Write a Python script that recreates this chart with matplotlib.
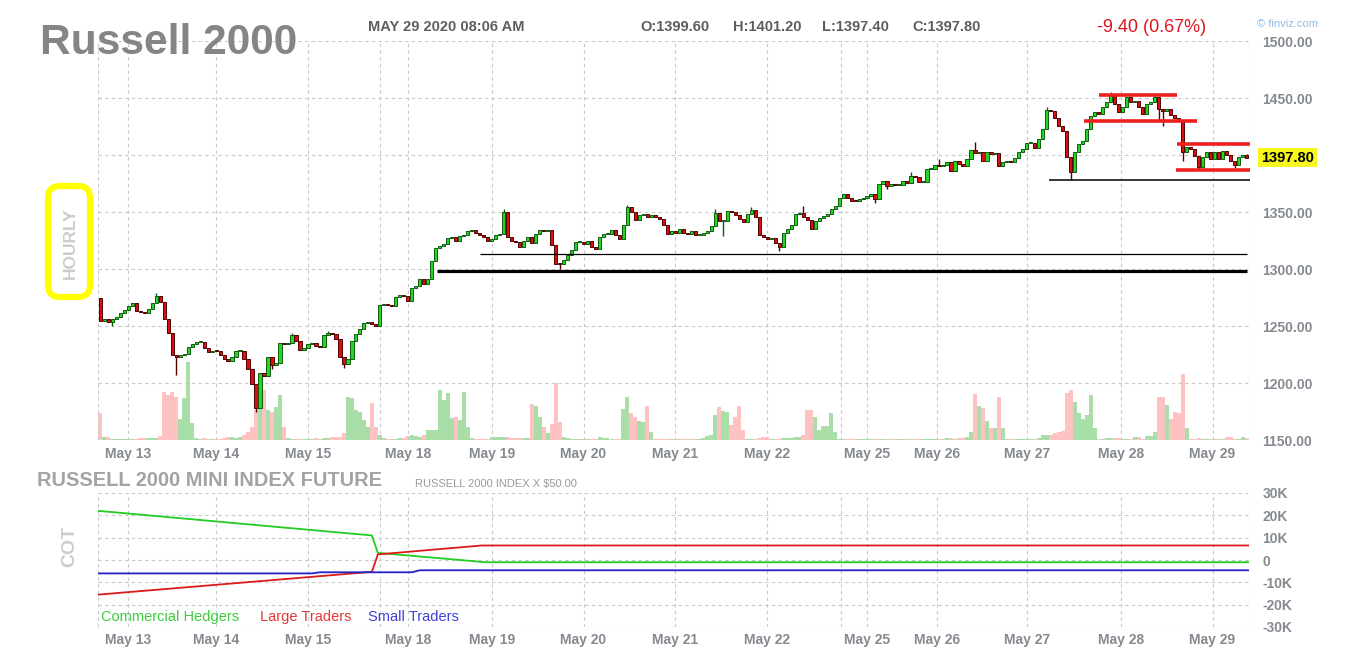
import numpy as np
import matplotlib.pyplot as plt
from matplotlib.patches import FancyBboxPatch
from matplotlib.transforms import blended_transform_factory

plt.rcParams['font.family'] = ['Liberation Sans', 'DejaVu Sans']

# Russell 2000 futures, hourly candles (May 12 evening -> May 29 08:00)
# open of each candle = close of the one before
first_open = 1275.0
closes = [
    1254.4, 1255.8, 1253.5, 1256.4, 1258.2, 1261.7, 1264.0, 1267.5, 1269.9, 1263.2, 1262.3, 1261.7,
    1265.2, 1269.9, 1276.3, 1271.0, 1255.8, 1244.2, 1224.3, 1223.1, 1224.3, 1225.1, 1231.9, 1233.9,
    1236.0, 1236.0, 1231.0, 1227.2, 1228.4, 1227.8, 1224.3, 1221.3, 1219.3, 1223.1, 1227.8, 1228.4,
    1221.3, 1212.0, 1198.8, 1178.4, 1208.5, 1206.1, 1223.1, 1215.5, 1217.8, 1234.8, 1233.9, 1234.8,
    1241.8, 1236.8, 1228.9, 1231.0, 1233.9, 1235.4, 1232.5, 1231.3, 1241.8, 1243.6, 1242.7, 1238.3,
    1223.1, 1216.4, 1221.3, 1236.8, 1242.7, 1247.1, 1252.3, 1253.5, 1251.5, 1250.0, 1268.1, 1269.0,
    1268.1, 1267.5, 1275.7, 1276.9, 1276.3, 1272.0, 1283.0, 1285.0, 1291.0, 1287.0, 1291.0, 1307.0,
    1318.0, 1320.0, 1322.0, 1327.0, 1328.0, 1325.0, 1329.0, 1330.0, 1333.0, 1334.0, 1332.0, 1330.0,
    1328.0, 1325.0, 1326.0, 1330.0, 1331.0, 1350.0, 1328.0, 1325.0, 1323.7, 1319.3, 1325.0, 1328.0,
    1323.0, 1331.0, 1334.0, 1333.0, 1334.0, 1320.8, 1304.7, 1304.0, 1307.6, 1312.0, 1316.4, 1323.7,
    1323.7, 1322.2, 1325.0, 1319.3, 1317.8, 1328.0, 1331.0, 1331.0, 1334.0, 1329.5, 1326.6, 1338.3,
    1354.4, 1350.0, 1342.7, 1347.0, 1348.0, 1345.6, 1347.0, 1345.6, 1344.0, 1339.0, 1330.4, 1333.3,
    1331.3, 1335.4, 1331.3, 1330.4, 1333.3, 1329.5, 1329.5, 1331.9, 1333.3, 1337.7, 1349.0, 1342.0,
    1342.0, 1351.0, 1350.0, 1347.0, 1344.0, 1341.0, 1348.0, 1352.0, 1346.0, 1330.0, 1328.0, 1326.0,
    1327.5, 1323.0, 1319.0, 1332.0, 1335.0, 1339.0, 1348.0, 1349.4, 1345.9, 1343.0, 1334.8, 1342.0,
    1345.0, 1346.5, 1348.0, 1353.0, 1355.5, 1362.6, 1365.5, 1362.0, 1360.0, 1359.5, 1361.0, 1362.0,
    1364.0, 1366.0, 1361.0, 1374.6, 1377.5, 1373.1, 1374.6, 1373.7, 1373.7, 1377.5, 1375.4, 1381.3,
    1380.4, 1376.0, 1376.0, 1387.7, 1388.0, 1391.2, 1390.1, 1391.2, 1393.6, 1386.3, 1395.0, 1392.1,
    1390.6, 1396.5, 1404.4, 1401.8, 1402.9, 1395.0, 1402.9, 1400.9, 1402.0, 1390.6, 1393.6, 1394.2,
    1393.6, 1397.1, 1402.9, 1405.3, 1410.5, 1410.5, 1405.8, 1414.0, 1422.8, 1439.8, 1438.9, 1432.2,
    1425.7, 1421.3, 1398.0, 1384.8, 1402.3, 1409.6, 1412.6, 1422.8, 1434.5, 1437.4, 1436.0, 1441.8,
    1446.2, 1453.0, 1444.7, 1437.4, 1441.8, 1450.6, 1446.2, 1447.0, 1441.8, 1436.0, 1444.7, 1446.2,
    1450.6, 1440.4, 1438.9, 1440.4, 1435.1, 1432.2, 1430.1, 1402.3, 1406.7, 1405.3, 1399.4, 1389.2,
    1398.0, 1402.3, 1396.5, 1402.3, 1396.5, 1403.8, 1400.0, 1395.0, 1391.2, 1398.0, 1399.6, 1397.8,
]
volume = [
    27, 3, 3, 1, 1, 1, 1, 1, 1, 1, 2, 2,
    2, 2, 2, 4, 48, 45, 48, 43, 21, 42, 78, 17,
    2, 1, 2, 1, 1, 1, 1, 2, 3, 3, 2, 3,
    5, 8, 13, 30, 48, 50, 30, 28, 33, 45, 13, 2,
    1, 1, 1, 1, 1, 1, 2, 1, 2, 2, 3, 3,
    3, 7, 43, 42, 30, 28, 20, 13, 37, 13, 5, 2,
    1, 1, 1, 2, 2, 4, 5, 4, 3, 5, 10, 10,
    10, 50, 40, 47, 22, 23, 20, 48, 13, 2, 1, 1,
    1, 1, 3, 3, 3, 3, 3, 2, 2, 2, 2, 2,
    36, 34, 23, 13, 7, 16, 57, 18, 3, 2, 1, 1,
    1, 1, 1, 1, 1, 3, 2, 2, 1, 1, 1, 31,
    43, 27, 23, 19, 18, 34, 8, 1, 1, 1, 1, 1,
    1, 1, 1, 1, 1, 1, 1, 2, 4, 5, 25, 33,
    29, 28, 15, 23, 34, 10, 1, 1, 1, 2, 3, 3,
    1, 1, 1, 2, 2, 2, 3, 3, 5, 30, 30, 23,
    10, 14, 14, 27, 8, 1, 1, 1, 1, 1, 1, 1,
    1, 1, 1, 1, 1, 1, 1, 1, 1, 1, 1, 1,
    1, 1, 1, 1, 1, 1, 1, 1, 2, 2, 1, 2,
    2, 3, 8, 46, 34, 32, 19, 12, 12, 43, 12, 1,
    1, 1, 1, 1, 1, 1, 1, 2, 5, 5, 5, 7,
    8, 9, 47, 50, 38, 27, 21, 25, 45, 12, 1, 1,
    2, 2, 2, 2, 1, 1, 1, 3, 3, 1, 4, 4,
    8, 43, 43, 35, 21, 28, 27, 66, 12, 1, 1, 2,
    1, 1, 1, 1, 1, 1, 3, 3, 1, 1, 3, 2,
]
# candles with a visible wick beyond the body
wick_high = {14: 1279.0, 48: 1244.0, 57: 1246.0, 101: 1352.5, 132: 1356.5, 154: 1352.5,
             163: 1354.0, 176: 1355.0, 203: 1385.0, 210: 1396.5, 219: 1411.0, 237: 1442.0,
             253: 1455.0, 264: 1453.0, 287: 1401.2}
wick_low = {3: 1250.0, 19: 1207.0, 39: 1175.0, 43: 1212.0, 61: 1213.0, 115: 1300.0,
            156: 1329.0, 170: 1316.0, 194: 1358.0, 197: 1370.0, 243: 1378.5, 265: 1430.0,
            266: 1425.5, 271: 1395.0, 275: 1387.0, 284: 1389.0, 287: 1397.4}

day_labels = ["May 13", "May 14", "May 15", "May 18", "May 19", "May 20", "May 21",
              "May 22", "May 25", "May 26", "May 27", "May 28", "May 29"]
day_pos = [7, 29, 52, 77, 98, 121, 144, 167, 192, 209.5, 232, 255.5, 278.5]
week_breaks = [70, 185.5]
price_ticks = [1150, 1200, 1250, 1300, 1350, 1400, 1450, 1500]

# hand drawn support / resistance lines
black_levels = [1313.2, 1298.5, 1378.0]
black_start = [95.0, 84.3, 237.5]
black_end = [287.0, 287.0, 287.8]
black_width = [0.9, 2.3, 1.1]
red_levels = [1453.0, 1429.5, 1409.4, 1386.8]
red_start = [250.0, 246.2, 269.5, 269.3]
red_end = [269.5, 274.7, 287.8, 287.8]

# COT positions (thousand contracts)
hedgers_x = [-0.5, 68.0, 69.5, 96.5, 287.5]
hedgers_k = [22.0, 11.0, 3.2, -1.0, -1.0]
large_x = [-0.5, 68.0, 69.5, 95.5, 287.5]
large_k = [-15.5, -5.3, 2.5, 6.5, 6.5]
small_x = [-0.5, 53.0, 55.0, 78.0, 80.0, 287.5]
small_k = [-6.0, -6.0, -5.5, -5.5, -4.6, -4.6]
cot_ticks = [-30, -20, -10, 0, 10, 20, 30]


n = min(len(closes), len(volume))
c = np.array(closes[:n])
o = np.concatenate([[first_open], c[:-1]])
hi = np.maximum(o, c)
lo = np.minimum(o, c)
for i, v in wick_high.items():
    if i < n:
        hi[i] = max(hi[i], v)
for i, v in wick_low.items():
    if i < n:
        lo[i] = min(lo[i], v)
x = np.arange(n)
up = c >= o

W, H = 1357, 670
def rect(l, t, r, b):
    return [l / W, 1 - b / H, (r - l) / W, (b - t) / H]

grid_kw = dict(color='#c8c8c8', linestyle=(0, (3, 3)), linewidth=0.8)
lab_col = '#858a90'

fig = plt.figure(figsize=(W / 100, H / 100), dpi=100)

# price panel, volume sits underneath on a twin axis
ax = fig.add_axes(rect(98.3, 41, 1248.5, 440))
axv = ax.twinx()
axv.set_zorder(ax.get_zorder() - 1)
ax.patch.set_visible(False)

axv.bar(x, volume[:n], width=1.0, color=np.where(up, '#a9dea9', '#ffc2c2'), linewidth=0)
axv.set_ylim(0, 400)
axv.set_yticks([])

body_col = np.where(up, '#22d822', '#d61010')
edge_col = np.where(up, '#0f5a0f', '#520000')
ax.vlines(x, lo, hi, colors=edge_col, linewidth=1.0, zorder=2)
ax.bar(x, np.maximum(np.abs(c - o), 1.0), bottom=np.minimum(o, c), width=0.8,
       color=body_col, edgecolor=edge_col, linewidth=0.7, zorder=3)

ax.hlines(black_levels, black_start, black_end, colors='black', linewidth=black_width, zorder=4, clip_on=False)
ax.hlines(red_levels, red_start, red_end, colors='#ee2020', linewidth=2.6, zorder=4, clip_on=False)

ax.set_xlim(-0.5, n - 0.5)
ax.set_ylim(1150, 1500)
ax.yaxis.tick_right()
ax.set_yticks(price_ticks, [f"{p:.2f}" for p in price_ticks])
ax.set_xticks(day_pos, day_labels)
ax.set_xticks([-0.5] + week_breaks + [n - 0.5], minor=True)
ax.grid(True, which='both', **grid_kw)
ax.tick_params(which='both', length=0, labelsize=10, labelcolor=lab_col)
ax.tick_params(axis='x', pad=5)
ax.tick_params(axis='y', pad=10)
for a in (ax, axv):
    for s in a.spines.values():
        s.set_visible(False)
for lbl in ax.get_xticklabels() + ax.get_yticklabels():
    lbl.set_fontweight('bold')

# last price tag
ax.text(1.011, c[-1], f"{c[-1]:.2f}", transform=blended_transform_factory(ax.transAxes, ax.transData),
        ha='left', va='center', fontsize=10.5, fontweight='bold', color='black', zorder=10, clip_on=False,
        bbox=dict(boxstyle='square,pad=0.2', fc='#f8f820', ec='none'))

# COT panel
axc = fig.add_axes(rect(98.3, 493, 1248.5, 627))
axc.plot(hedgers_x, hedgers_k, color='#22cc22', linewidth=1.3)
axc.plot(large_x, large_k, color='#dd1a1a', linewidth=1.3)
axc.plot(small_x, small_k, color='#2222c8', linewidth=1.3)
axc.set_xlim(-0.5, n - 0.5)
axc.set_ylim(-30, 30)
axc.yaxis.tick_right()
axc.set_yticks(cot_ticks, [f"{t}K" if t else "0" for t in cot_ticks])
axc.set_xticks(day_pos, day_labels)
axc.set_xticks([-0.5] + week_breaks + [n - 0.5], minor=True)
axc.grid(True, which='both', **grid_kw)
axc.tick_params(which='both', length=0, labelsize=10, labelcolor=lab_col)
axc.tick_params(axis='x', pad=4)
axc.tick_params(axis='y', pad=10)
for s in axc.spines.values():
    s.set_visible(False)
for lbl in axc.get_xticklabels() + axc.get_yticklabels():
    lbl.set_fontweight('bold')

for txt, col, fx in [("Commercial Hedgers", '#3ccc3c', 0.002),
                     ("Large Traders", '#e03a3a', 0.1406),
                     ("Small Traders", '#4040d8', 0.2345)]:
    axc.text(fx, 0.075, txt, transform=axc.transAxes, color=col, fontsize=10.5, va='center')

# headers and side labels, in pixel units
deco = fig.add_axes([0, 0, 1, 1])
deco.set_xlim(0, W)
deco.set_ylim(H, 0)
deco.axis('off')

deco.text(40, 54, "Russell 2000", fontsize=30.5, fontweight='bold', color='#858585', va='baseline')
head_col = '#5e5e5e'
deco.text(368, 27, "MAY 29 2020 08:06 AM", fontsize=10.5, fontweight='bold', color=head_col, va='center')
for txt, px in [("O:1399.60", 640), ("H:1401.20", 733), ("L:1397.40", 822), ("C:1397.80", 912)]:
    deco.text(px, 27, txt, fontsize=10.5, fontweight='bold', color=head_col, va='center')
deco.text(1097, 27, "-9.40 (0.67%)", fontsize=13, color='#e0141e', va='center')
deco.text(1257, 24, "\u00a9 finviz.com", fontsize=8, color='#8cbde8', va='center')

deco.text(37, 481, "RUSSELL 2000 MINI INDEX FUTURE", fontsize=14.4, fontweight='bold', color='#a3a3a3', va='center')
deco.text(415, 484, "RUSSELL 2000 INDEX X \\$50.00", fontsize=8, color='#9a9a9a', va='center')

deco.text(70, 243, "HOURLY", rotation=90, fontsize=12.5, fontweight='bold', color='#cccccc',
          ha='center', va='center')
deco.text(70, 546, "COT", rotation=90, fontsize=14, fontweight='bold', color='#cccccc',
          ha='center', va='center')
deco.add_patch(FancyBboxPatch((48, 186), 42, 111, boxstyle='round,pad=0,rounding_size=12',
                              fc='none', ec='#ffff00', linewidth=4.5))

fig.savefig('out.png', dpi=100)
